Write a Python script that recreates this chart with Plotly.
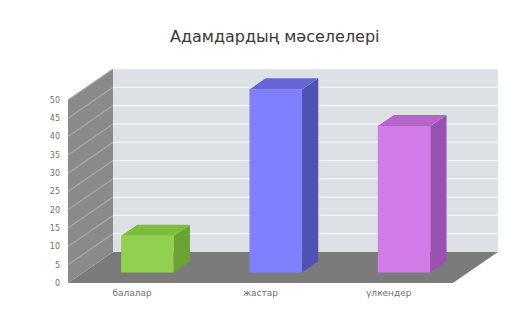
import plotly.graph_objects as go

# ---- data ----
categories = ["балалар", "жастар", "үлкендер"]
values = [10, 50, 40]
tick_values = [0, 5, 10, 15, 20, 25, 30, 35, 40, 45, 50]
title_text = "Адамдардың мәселелері"

# ---- styles ----
front_colors = ["#92d150", "#8080ff", "#d27be9"]
top_colors = ["#7cbd3c", "#6666d6", "#b565cc"]
side_colors = ["#6aa332", "#5151b3", "#9a52b0"]
back_wall_color = "#dde1e6"
grid_color = "#f2f5f8"
side_wall_color = "#8a8a8a"
side_grid_color = "#a9a9a9"
floor_color = "#7b7b7b"

W, H = 514, 314
L, R, T, B = 40, 4, 60, 28
PXX = 128.3   # px per category
PXY = 3.66    # px per value unit
FRONT_LEFT_PX = 68
ZERO_PX = 283

x0 = -0.5 - (FRONT_LEFT_PX - L) / PXX
x1 = x0 + (W - L - R) / PXX
y0 = -(H - B - ZERO_PX) / PXY
y1 = y0 + (H - T - B) / PXY

DX = 45 / PXX   # depth offset (data units)
DY = 31 / PXY
YMAX = tick_values[-1]
XL, XR = -0.5, len(categories) - 0.5
BW = 0.41
D1, D2 = 0.34, 0.70


def path(pts):
    return "M " + " L ".join(f"{x},{y}" for x, y in pts) + " Z"


shapes = []
# floor
shapes.append(dict(type="path", xref="x", yref="y", layer="below",
                   path=path([(XL, 0), (XR, 0), (XR + DX, DY), (XL + DX, DY)]),
                   fillcolor=floor_color, line=dict(width=0)))
# back wall
shapes.append(dict(type="path", xref="x", yref="y", layer="below",
                   path=path([(XL + DX, DY), (XR + DX, DY), (XR + DX, YMAX + DY), (XL + DX, YMAX + DY)]),
                   fillcolor=back_wall_color, line=dict(width=0)))
# side wall
shapes.append(dict(type="path", xref="x", yref="y", layer="below",
                   path=path([(XL, 0), (XL + DX, DY), (XL + DX, YMAX + DY), (XL, YMAX)]),
                   fillcolor=side_wall_color, line=dict(width=0)))
# gridlines
for v in tick_values[1:]:
    shapes.append(dict(type="line", xref="x", yref="y", layer="below",
                       x0=XL + DX, y0=v + DY, x1=XR + DX, y1=v + DY,
                       line=dict(color=grid_color, width=1.2)))
    shapes.append(dict(type="line", xref="x", yref="y", layer="below",
                       x0=XL, y0=v, x1=XL + DX, y1=v + DY,
                       line=dict(color=side_grid_color, width=1.2)))

fig = go.Figure()
dd = D2 - D1
for i, v in enumerate(values):
    cx = i + D1 * DX
    b1 = D1 * DY
    xl, xr = cx - BW / 2, cx + BW / 2
    # side face
    fig.add_trace(go.Scatter(
        x=[xr, xr, xr + dd * DX, xr + dd * DX, xr],
        y=[b1, v + b1, v + D2 * DY, D2 * DY, b1],
        mode="lines", fill="toself", fillcolor=side_colors[i],
        line=dict(width=0), hoverinfo="skip", showlegend=False))
    # top face
    fig.add_trace(go.Scatter(
        x=[xl, xr, xr + dd * DX, xl + dd * DX, xl],
        y=[v + b1, v + b1, v + D2 * DY, v + D2 * DY, v + b1],
        mode="lines", fill="toself", fillcolor=top_colors[i],
        line=dict(width=0), hoverinfo="skip", showlegend=False))
    # front face
    fig.add_trace(go.Bar(x=[cx], y=[v], base=[b1], width=BW,
                         marker=dict(color=front_colors[i], line=dict(width=0)),
                         showlegend=False, hoverinfo="skip"))

title_y_paper = 1 + (T - 36) / (H - T - B)
fig.update_layout(
    template="none",
    width=W, height=H,
    margin=dict(l=L, r=R, t=T, b=B, autoexpand=False),
    paper_bgcolor="white", plot_bgcolor="white",
    shapes=shapes,
    showlegend=False,
    font=dict(family="DejaVu Sans, Liberation Sans, sans-serif", color="#595959"),
    annotations=[dict(text=title_text, xref="paper", yref="paper",
                      x=(275 - L) / (W - L - R), y=title_y_paper,
                      xanchor="center", yanchor="middle", showarrow=False,
                      font=dict(size=16, color="#383838"))],
    xaxis=dict(range=[x0, x1], showgrid=False, zeroline=False, showline=False,
               automargin=False,
               tickmode="array", tickvals=[i for i in range(len(categories))],
               ticktext=categories, ticks="", tickfont=dict(size=9, color="#707070")),
    yaxis=dict(range=[y0, y1], showgrid=False, zeroline=False, showline=False,
               automargin=False,
               tickmode="array", tickvals=tick_values, ticks="",
               anchor="free", position=(60 - L) / (W - L - R),
               tickfont=dict(size=8, color="#707070")),
)

fig.write_html("out.html", config={"displayModeBar": False},
               post_script="document.body.style.margin='0';")
